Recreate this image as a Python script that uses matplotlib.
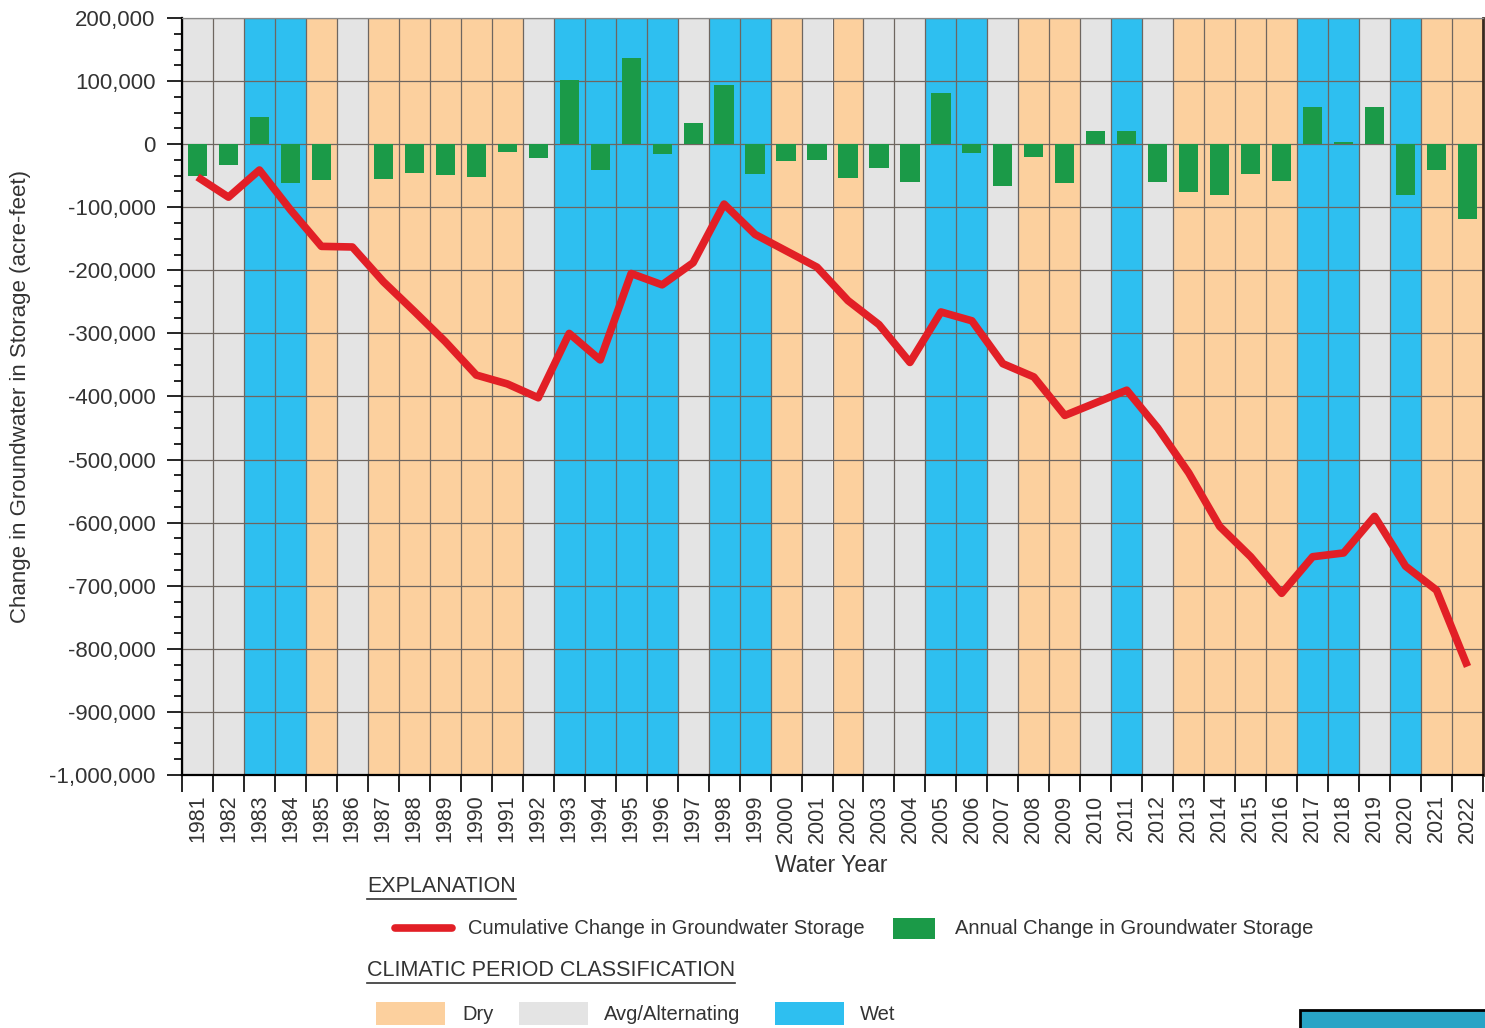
import matplotlib
matplotlib.use("Agg")
import matplotlib.pyplot as plt
import numpy as np
from matplotlib.lines import Line2D
from matplotlib.patches import Rectangle
from matplotlib.ticker import FuncFormatter, MultipleLocator

plt.rcParams['font.family'] = ['Liberation Sans', 'DejaVu Sans']

years = list(range(1981, 2023))

# climatic period for each water year: D = dry, A = avg/alternating, W = wet
period = ['A', 'A', 'W', 'W', 'D', 'A', 'D', 'D', 'D', 'D', 'D', 'A',
          'W', 'W', 'W', 'W', 'A', 'W', 'W', 'D', 'A', 'D', 'A', 'A',
          'W', 'W', 'A', 'D', 'D', 'A', 'W', 'A', 'D', 'D', 'D', 'D',
          'W', 'W', 'A', 'W', 'D', 'D']

# annual change in storage (acre-feet)
annual = [-50000, -33000, 43000, -62000, -57000, 0, -56000, -46000, -49000, -52000,
          -13000, -22000, 101000, -41000, 136000, -16000, 34000, 93000, -47000, -27000,
          -25000, -54000, -38000, -60000, 81000, -14000, -66000, -20000, -62000, 21000,
          21000, -60000, -76000, -81000, -47000, -59000, 59000, 4000, 59000, -80000,
          -41000, -118000]

# cumulative change in storage (acre-feet)
cumulative = [-52000, -84000, -41000, -104000, -162000, -163000, -218000, -265000,
              -313000, -366000, -380000, -402000, -300000, -342000, -205000, -223000,
              -188000, -95000, -143000, -169000, -195000, -248000, -286000, -346000,
              -266000, -280000, -348000, -369000, -430000, -410000, -390000, -450000,
              -521000, -606000, -654000, -712000, -654000, -648000, -590000, -669000,
              -707000, -828000]

period_colors = {'D': '#fcd09e', 'A': '#e4e4e4', 'W': '#2ebff0'}
green = '#1b9a48'
red = '#e21f26'
txt = '#333333'

W, H = 1485, 1028
fig = plt.figure(figsize=(W / 100, H / 100), dpi=100)
ax = fig.add_axes([182 / W, 1 - 775 / H, 1301 / W, 757 / H])

for y, p in zip(years, period):
    ax.axvspan(y - 0.5, y + 0.5, color=period_colors[p], lw=0, zorder=0.1)

ax.bar(years, annual, width=0.62, color=green, zorder=2)
ax.plot(years, cumulative, color=red, lw=5.5, zorder=3, solid_capstyle='butt')

ax.set_xlim(1980.5, 2022.5)
ax.set_ylim(-1000000, 200000)
ax.set_axisbelow(True)

ax.set_xticks(years)
ax.set_xticklabels([str(y) for y in years], rotation=90, fontsize=15.5, color=txt)
ax.set_xticks(np.arange(1980.5, 2023, 1), minor=True)
ax.tick_params(axis='x', which='major', length=0, pad=14)
ax.tick_params(axis='x', which='minor', length=12, width=1.2, direction='out')

ax.yaxis.set_major_locator(MultipleLocator(100000))
ax.yaxis.set_minor_locator(MultipleLocator(25000))
ax.yaxis.set_major_formatter(FuncFormatter(lambda v, _: f"{v:,.0f}"))
ax.tick_params(axis='y', which='major', length=11, width=1.2, pad=8, labelsize=16, labelcolor=txt)
ax.tick_params(axis='y', which='minor', length=6, width=1.2)

ax.grid(axis='y', which='major', color='#6e6660', lw=0.9)
ax.grid(axis='x', which='minor', color='#6e6660', lw=0.9)

ax.spines['top'].set_color('#8a8a8a')
ax.spines['top'].set_linewidth(0.9)
ax.spines['right'].set_color('#3a2a20')
ax.spines['right'].set_linewidth(2)
ax.spines['left'].set_linewidth(1.6)
ax.spines['bottom'].set_linewidth(1.6)

ax.set_ylabel('Change in Groundwater in Storage (acre-feet)', fontsize=16, color=txt)
ax.yaxis.set_label_coords((31 - 182) / 1301, 0.5)


def fx(px):
    return px / W


def fy(py):
    return 1 - py / H


fig.text(fx(831), fy(866), 'Water Year', fontsize=16.5, color=txt, ha='center', va='center')

heads = [fig.text(fx(367), fy(887), 'EXPLANATION', fontsize=15.5, color=txt, va='center'),
         fig.text(fx(367), fy(971), 'CLIMATIC PERIOD CLASSIFICATION', fontsize=15.5, color=txt,
                  va='center')]

fig.add_artist(Line2D([fx(395), fx(452)], [fy(928), fy(928)], color=red, lw=5.5,
                      solid_capstyle='round'))
fig.text(fx(468), fy(929), 'Cumulative Change in Groundwater Storage', fontsize=14.5, color=txt,
         va='center')
fig.add_artist(Rectangle((fx(893), fy(939)), fx(42), 21 / H, color=green, lw=0))
fig.text(fx(955), fy(929), 'Annual Change in Groundwater Storage', fontsize=14.5, color=txt,
         va='center')

for x0, key, label, tx in [(376, 'D', 'Dry', 462), (519, 'A', 'Avg/Alternating', 604),
                           (775, 'W', 'Wet', 860)]:
    fig.add_artist(Rectangle((fx(x0), fy(1025)), fx(69), 23 / H, color=period_colors[key], lw=0))
    fig.text(fx(tx), fy(1014), label, fontsize=14.5, color=txt, va='center')

# partial box at the lower right edge
fig.add_artist(Rectangle((fx(1300), fy(1040)), fx(200), 30 / H, facecolor='#28a4c6',
                         edgecolor='black', lw=2))

# underline the headings
fig.canvas.draw()
r = fig.canvas.get_renderer()
for t in heads:
    bb = t.get_window_extent(r)
    yy = bb.y0 - 1
    fig.add_artist(Line2D([bb.x0 / W, bb.x1 / W], [yy / H, yy / H], color=txt, lw=1.2))

fig.savefig('out.png', dpi=100)
